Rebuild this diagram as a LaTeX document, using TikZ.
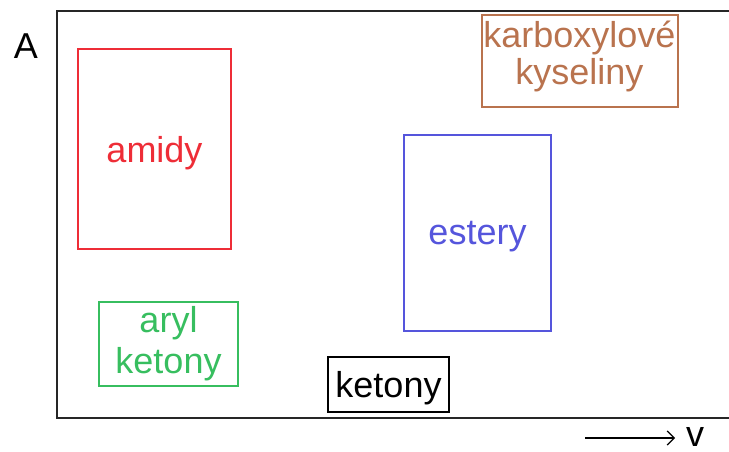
\documentclass[tikz,border=0pt]{standalone}
\usepackage{fontspec}
\setmainfont{Liberation Sans}
\usetikzlibrary{arrows.meta}
\definecolor{cred}{RGB}{238,45,55}
\definecolor{cgreen}{RGB}{55,190,95}
\definecolor{cblue}{RGB}{85,85,220}
\definecolor{cbrown}{RGB}{185,115,78}
\begin{document}
\begin{tikzpicture}[x=1pt,y=-1pt,
  lab/.style={font=\fontsize{36}{38}\selectfont, align=center, inner sep=0pt},
  catbox/.style={lab, draw, line width=1.7pt, text depth=0pt},
  frame/.style={line width=2pt, draw=black!85}]
\useasboundingbox (0,0) rectangle (729,452);
\coordinate (tl) at (57,11);
\coordinate (bl) at (57,418);
\coordinate (tr) at (740,11);
\coordinate (br) at (740,418);
\draw[frame] (tr) -- (tl) -- (bl) -- (br);
\node[lab, anchor=base] (A) at (26,59) {A};
\node[catbox, draw=cred, text=cred, minimum width=153pt, minimum height=200pt] (amidy) at (154.5,149) {amidy};
\node[catbox, draw=cbrown, text=cbrown, line width=2pt, minimum width=196pt, minimum height=92pt, text depth=16pt] (karb) at (579.5,61) {karboxylové\\[-1pt]kyseliny};
\node[catbox, draw=cblue, text=cblue, minimum width=147pt, minimum height=196pt] (est) at (477.5,233) {estery};
\node[catbox, draw=cgreen, text=cgreen, minimum width=139pt, minimum height=84pt, text depth=9pt] (aryl) at (168.5,344) {aryl\\[3pt]ketony};
\node[catbox, draw=black, text=black, minimum width=121pt, minimum height=55pt] (ket) at (388.5,384.5) {ketony};
\coordinate (a1) at (585,438);
\coordinate (a2) at (675,438);
\draw[line width=1.2pt, -{Straight Barb[length=7pt,width=14pt]}] (a1) -- (a2);
\node[lab, anchor=base] (v) at (695,446) {v};
\end{tikzpicture}
\end{document}
